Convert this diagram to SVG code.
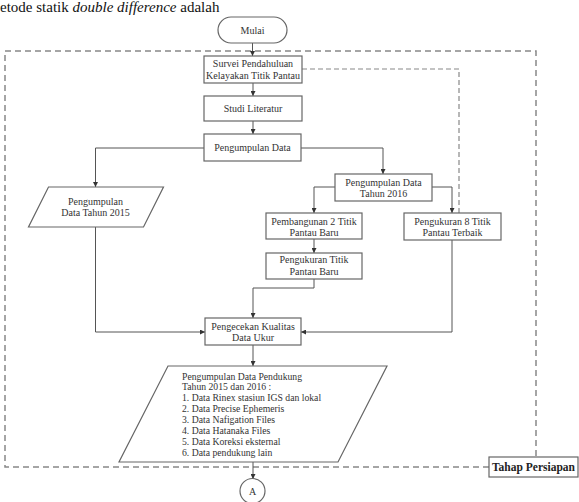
<svg xmlns="http://www.w3.org/2000/svg" width="579" height="502" viewBox="0 0 579 502">
<defs>
<marker id="arr" viewBox="0 0 10 10" refX="10" refY="5" markerWidth="5" markerHeight="5" orient="auto" markerUnits="userSpaceOnUse">
<path d="M0,0 L10,5 L0,10 z" fill="#333"/>
</marker>
</defs>
<style>
.box{fill:#fff;stroke:#666;stroke-width:1.2}
.t{font-family:"Liberation Serif","Times New Roman",serif;font-size:10px;fill:#333;text-anchor:middle}
.tl{font-family:"Liberation Serif","Times New Roman",serif;font-size:9.7px;fill:#333}
.c{fill:none;stroke:#555;stroke-width:1}
.d{fill:none;stroke:#888;stroke-width:1.5;stroke-dasharray:6 4}
.d2{fill:none;stroke:#888;stroke-width:1.2;stroke-dasharray:5 3}
</style>
<rect width="579" height="502" fill="#fff"/>
<text x="0" y="12" font-family="'Liberation Serif','Times New Roman',serif" font-size="15" fill="#111">etode statik <tspan font-style="italic">double difference</tspan> adalah</text>

<g id="boundary">
<path class="d" d="M489,467 L5,467 L5,51 L536,51 L536,457"/>
</g>

<g id="connectors">
<path class="c" d="M252.5,43 V56" marker-end="url(#arr)"/>
<path class="c" d="M253,83 V96" marker-end="url(#arr)"/>
<path class="c" d="M253,121 V134" marker-end="url(#arr)"/>
<path class="c" d="M204,148 H95.5 V187" marker-end="url(#arr)"/>
<path class="c" d="M301,148 H383 V174" marker-end="url(#arr)"/>
<path class="c" d="M335,187 H314 V213" marker-end="url(#arr)"/>
<path class="c" d="M432,187 H452 V213" marker-end="url(#arr)"/>
<path class="c" d="M314,239 V253" marker-end="url(#arr)"/>
<path class="c" d="M314,279 V288 H253 V318" marker-end="url(#arr)"/>
<path class="c" d="M95.5,227 V332 H205" marker-end="url(#arr)"/>
<path class="c" d="M452,240 V332 H301" marker-end="url(#arr)"/>
<path class="c" d="M253,345 V366" marker-end="url(#arr)"/>
<path class="c" d="M253,462 V479" marker-end="url(#arr)"/>
<path class="d2" d="M302,69 H459 V213"/>
</g>

<g id="mulai">
<rect class="box" x="218" y="17" width="69" height="26" rx="13" ry="13"/>
<text class="t" x="252.5" y="33.5" font-size="9.5">Mulai</text>
</g>

<g id="survei">
<rect class="box" x="204" y="56" width="98" height="27"/>
<text class="t" x="253" y="66.5">Survei Pendahuluan</text>
<text class="t" x="253" y="78.5">Kelayakan Titik Pantau</text>
</g>

<g id="studi">
<rect class="box" x="204" y="96" width="98" height="25"/>
<text class="t" x="253" y="112">Studi Literatur</text>
</g>

<g id="pengumpulan">
<rect class="box" x="204" y="134" width="97" height="27"/>
<text class="t" x="252.5" y="151">Pengumpulan Data</text>
</g>

<g id="data2015">
<polygon class="box" points="48.5,187 163.5,187 143.5,227 28.5,227"/>
<text class="t" x="95.5" y="204.5">Pengumpulan</text>
<text class="t" x="95.5" y="215.5">Data Tahun 2015</text>
</g>

<g id="data2016">
<rect class="box" x="335" y="174" width="97" height="27"/>
<text class="t" x="383.5" y="185.5">Pengumpulan Data</text>
<text class="t" x="383.5" y="196.5">Tahun 2016</text>
</g>

<g id="pembangunan">
<rect class="box" x="266" y="213" width="96" height="26"/>
<text class="t" x="314" y="224.5">Pembangunan 2 Titik</text>
<text class="t" x="314" y="235.5">Pantau Baru</text>
</g>

<g id="pengukuran8">
<rect class="box" x="404" y="213" width="97" height="27"/>
<text class="t" x="452.5" y="224.5">Pengukuran 8 Titik</text>
<text class="t" x="452.5" y="235.5">Pantau Terbaik</text>
</g>

<g id="pengukuranbaru">
<rect class="box" x="266" y="253" width="96" height="26"/>
<text class="t" x="314" y="262.5">Pengukuran Titik</text>
<text class="t" x="314" y="274.5">Pantau Baru</text>
</g>

<g id="pengecekan">
<rect class="box" x="205" y="318" width="96" height="27"/>
<text class="t" x="253" y="329.5">Pengecekan Kualitas</text>
<text class="t" x="253" y="340.5">Data Ukur</text>
</g>

<g id="pendukung">
<polygon class="box" points="168,366 387,366 338,462 119,462"/>
<text class="tl" x="182" y="379.5">Pengumpulan Data Pendukung</text>
<text class="tl" x="182" y="390.4">Tahun 2015 dan 2016 :</text>
<text class="tl" x="182" y="401.3">1. Data Rinex stasiun IGS dan lokal</text>
<text class="tl" x="182" y="412.2">2. Data Precise Ephemeris</text>
<text class="tl" x="182" y="423.1">3. Data Nafigation Files</text>
<text class="tl" x="182" y="434">4. Data Hatanaka Files</text>
<text class="tl" x="182" y="444.9">5. Data Koreksi eksternal</text>
<text class="tl" x="182" y="455.8">6. Data pendukung lain</text>
</g>

<g id="connectorA">
<circle class="box" cx="252.5" cy="491" r="12.5"/>
<text class="t" x="252.5" y="494.5" font-size="9">A</text>
</g>

<g id="tahap">
<rect class="box" x="489" y="457" width="89" height="20"/>
<text x="533.5" y="471" font-family="'Liberation Serif','Times New Roman',serif" font-size="11.5" font-weight="bold" fill="#222" text-anchor="middle">Tahap Persiapan</text>
</g>
</svg>
